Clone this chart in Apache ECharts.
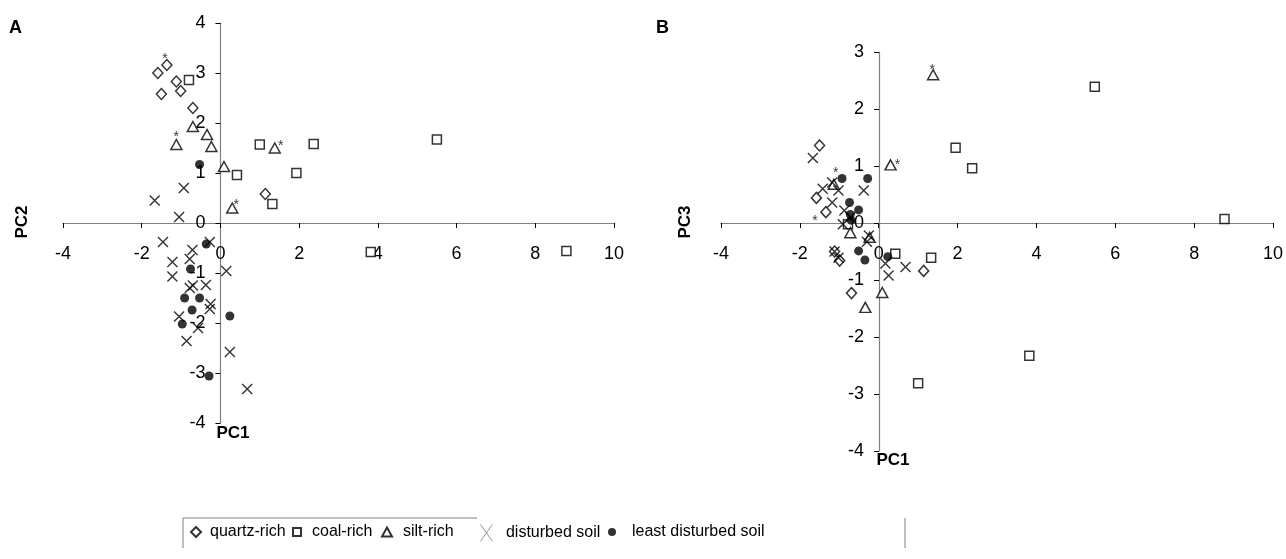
<!DOCTYPE html>
<html>
<head>
<meta charset="utf-8">
<script src="https://cdn.jsdelivr.net/npm/echarts@6/dist/echarts.min.js"></script>
<style>
  html, body { margin: 0; padding: 0; background: #fff; }
  #chart { width: 1286px; height: 559px; }
</style>
</head>
<body>
<div id="chart"></div>
<script>
// axis ticks
const xTicks = [-4, -2, 0, 2, 4, 6, 8, 10]
const yTicksA = [-4, -3, -2, -1, 0, 1, 2, 3, 4]
const yTicksB = [-4, -3, -2, -1, 0, 1, 2, 3]

const groups = ['quartz-rich', 'coal-rich', 'silt-rich', 'disturbed soil', 'least disturbed soil']

// panel A: PC1 / PC2
const quartzA = [[-1.59, 3.00], [-1.36, 3.16], [-1.12, 2.83], [-1.50, 2.58], [-1.01, 2.64], [-0.70, 2.30], [1.14, 0.58]]
const coalA = [[-0.80, 2.86], [1.00, 1.57], [0.42, 0.96], [1.93, 1.00], [1.32, 0.38], [2.37, 1.58], [5.50, 1.67], [3.82, -0.58], [8.79, -0.56]]
const siltA = [[-1.12, 1.57], [-0.70, 1.93], [-0.34, 1.77], [-0.23, 1.53], [0.09, 1.13], [1.38, 1.50], [0.30, 0.30]]
const disturbedA = [
  [-1.67, 0.45], [-0.93, 0.70], [-1.05, 0.12], [-1.46, -0.38], [-0.71, -0.54], [-0.27, -0.38], [-1.22, -0.78],
  [-0.78, -0.72], [-1.22, -1.07], [0.15, -0.96], [-0.78, -1.30], [-0.37, -1.24], [-0.70, -1.25], [-0.25, -1.62],
  [-0.27, -1.72], [-1.05, -1.87], [-0.57, -2.10], [-0.86, -2.36], [0.24, -2.58], [0.68, -3.32]
]
const leastA = [[-0.53, 1.17], [-0.36, -0.42], [-0.76, -0.92], [-0.91, -1.50], [-0.53, -1.50], [-0.72, -1.74], [0.24, -1.86], [-0.97, -2.02], [-0.29, -3.06]]

// panel B: PC1 / PC3
const quartzB = [[-1.58, 0.44], [-1.34, 0.19], [-1.12, -0.50], [-1.50, 1.36], [-0.99, -0.66], [-0.69, -1.23], [1.14, -0.84]]
const coalB = [[-0.78, -0.02], [1.00, -2.81], [0.42, -0.54], [1.95, 1.32], [1.33, -0.61], [2.37, 0.96], [5.48, 2.39], [3.82, -2.33], [8.77, 0.07]]
const siltB = [[-1.14, 0.68], [-0.72, -0.17], [-0.34, -1.48], [-0.23, -0.25], [0.09, -1.22], [1.38, 2.60], [0.30, 1.02]]
const disturbedB = [
  [-1.67, 1.14], [-1.18, 0.71], [-1.02, 0.57], [-0.38, 0.57], [-1.42, 0.60], [-1.18, 0.36], [-0.87, 0.22],
  [-0.72, 0.10], [-0.91, -0.02], [-0.25, -0.22], [-0.30, -0.33], [-1.12, -0.50], [-1.02, -0.61], [0.17, -0.71],
  [0.68, -0.77], [0.25, -0.92]
]
const leastB = [[-0.93, 0.78], [-0.28, 0.78], [-0.74, 0.36], [-0.51, 0.23], [-0.72, 0.15], [-0.70, 0.05], [-0.51, -0.49], [-0.35, -0.65], [0.23, -0.59]]

// samples flagged with an asterisk (index into the group arrays)
const starredQuartz = [1]
const starredSilt = [0, 5, 6]

const font = 'Liberation Sans, Arial, sans-serif'

// where each asterisk sits next to its marker
const starOffset = {
  'A-quartz-1': [-2, -6], 'A-silt-0': [0, -7], 'A-silt-5': [6, -2], 'A-silt-6': [4, -3],
  'B-quartz-1': [-11, 9], 'B-silt-0': [2, -11], 'B-silt-5': [-1, -5], 'B-silt-6': [7, 0]
}

const xPath = 'path://M0,0L10,10M10,0L0,10'
const styles = {
  'quartz-rich': { symbol: 'diamond', symbolSize: [10, 11], itemStyle: { color: '#fff', borderColor: '#000', borderWidth: 1.5 } },
  'coal-rich': { symbol: 'rect', symbolSize: 9, itemStyle: { color: '#fff', borderColor: '#000', borderWidth: 1.5 } },
  'silt-rich': { symbol: 'triangle', symbolSize: [11, 10], itemStyle: { color: '#fff', borderColor: '#000', borderWidth: 1.5 } },
  'disturbed soil': { symbol: xPath, symbolSize: 10, itemStyle: { color: 'transparent', borderColor: '#000', borderWidth: 1.4 } },
  'least disturbed soil': { symbol: 'circle', symbolSize: 9, itemStyle: { color: '#000', borderColor: '#000', borderWidth: 0 } }
}

// grid boxes
const gridA = { left: 63, top: 23, width: 551, height: 400 }
const gridB = { left: 721, top: 52, width: 553, height: 399 }

function toData(points, panel, key, starred) {
  return points.map(function (p, i) {
    if (starred.indexOf(i) < 0) return p
    return {
      value: p,
      label: {
        show: true, formatter: '*', position: 'inside', offset: starOffset[panel + '-' + key + '-' + i],
        fontSize: 14, fontFamily: font, color: '#000'
      }
    }
  })
}

function makeSeries(panel, idx, lists) {
  const keys = ['quartz', 'coal', 'silt', 'disturbed', 'least']
  return groups.map(function (g, k) {
    let starred = []
    if (keys[k] === 'quartz') starred = starredQuartz
    if (keys[k] === 'silt') starred = starredSilt
    return Object.assign({
      name: g,
      type: 'scatter',
      xAxisIndex: idx,
      yAxisIndex: idx,
      z: 2 + k,
      data: toData(lists[k], panel, keys[k], starred)
    }, styles[g])
  })
}

// axes cross at zero: shift the edge axes inward to the zero line
function xAxis(idx, grid, yTicks) {
  const lo = yTicks[0], hi = yTicks[yTicks.length - 1]
  return {
    type: 'value', gridIndex: idx, min: xTicks[0], max: xTicks[xTicks.length - 1], interval: 2,
    position: 'bottom', offset: -grid.height * (0 - lo) / (hi - lo),
    axisLine: { onZero: false, lineStyle: { color: '#808080', width: 1.2 } },
    axisTick: { length: 5, lineStyle: { color: '#000' } },
    axisLabel: { margin: 22, fontSize: 18, fontFamily: font, color: '#000' },
    splitLine: { show: false }
  }
}

function yAxis(idx, grid, ticks) {
  const lo = xTicks[0], hi = xTicks[xTicks.length - 1]
  return {
    type: 'value', gridIndex: idx, min: ticks[0], max: ticks[ticks.length - 1], interval: 1,
    position: 'left', offset: -grid.width * (0 - lo) / (hi - lo),
    axisLine: { onZero: false, lineStyle: { color: '#808080', width: 1.2 } },
    axisTick: { length: 5, lineStyle: { color: '#000' } },
    axisLabel: { margin: 15, fontSize: 18, fontFamily: font, color: '#000' },
    splitLine: { show: false }
  }
}

// one legend per entry so each can sit at its own spot
const legendSpots = [
  { name: 'quartz-rich', left: 190, w: 10, h: 10, pad: 4 },
  { name: 'coal-rich', left: 292, w: 8, h: 8, pad: 6 },
  { name: 'silt-rich', left: 381, w: 10, h: 9, pad: 6 },
  { name: 'disturbed soil', left: 480, w: 13, h: 17, pad: 8 },
  { name: 'least disturbed soil', left: 608, w: 8, h: 8, pad: 11 }
]

let legends = legendSpots.map(function (s) {
  let item = { name: s.name }
  if (s.name === 'disturbed soil') {
    item.icon = 'path://M0,0L10,14M10,0L0,14'
    item.itemStyle = { color: 'transparent', borderColor: '#555', borderWidth: 0.8 }
  }
  return {
    data: [item], left: s.left, top: 524, padding: 0,
    itemWidth: s.w, itemHeight: s.h, selectedMode: false,
    textStyle: { fontSize: 16, fontFamily: font, color: '#000', padding: [0, 0, 0, s.pad] }
  }
})

let myChart = echarts.init(document.getElementById('chart'))
let option = {
  backgroundColor: '#fff',
  animation: false,
  legend: legends,
  grid: [gridA, gridB],
  xAxis: [xAxis(0, gridA, yTicksA), xAxis(1, gridB, yTicksB)],
  yAxis: [yAxis(0, gridA, yTicksA), yAxis(1, gridB, yTicksB)],
  series: makeSeries('A', 0, [quartzA, coalA, siltA, disturbedA, leastA])
    .concat(makeSeries('B', 1, [quartzB, coalB, siltB, disturbedB, leastB])),
  graphic: [
    { type: 'text', left: 9, top: 19, style: { text: 'A', font: 'bold 18px ' + font, fill: '#000' } },
    { type: 'text', left: 656, top: 19, style: { text: 'B', font: 'bold 18px ' + font, fill: '#000' } },
    { type: 'text', x: 22, y: 222, rotation: Math.PI / 2, style: { text: 'PC2', font: 'bold 17px ' + font, fill: '#000', align: 'center', verticalAlign: 'middle' } },
    { type: 'text', x: 233, y: 433, style: { text: 'PC1', font: 'bold 17px ' + font, fill: '#000', align: 'center', verticalAlign: 'middle' } },
    { type: 'text', x: 685, y: 222, rotation: Math.PI / 2, style: { text: 'PC3', font: 'bold 17px ' + font, fill: '#000', align: 'center', verticalAlign: 'middle' } },
    { type: 'text', x: 893, y: 460, style: { text: 'PC1', font: 'bold 17px ' + font, fill: '#000', align: 'center', verticalAlign: 'middle' } },
    // partial legend frame
    { type: 'polyline', shape: { points: [[183, 548], [183, 518], [477, 518]] }, style: { stroke: '#808080', lineWidth: 1, fill: null } },
    { type: 'line', shape: { x1: 905, y1: 518, x2: 905, y2: 548 }, style: { stroke: '#808080', lineWidth: 1 } }
  ]
}
myChart.setOption(option)
</script>
</body>
</html>
